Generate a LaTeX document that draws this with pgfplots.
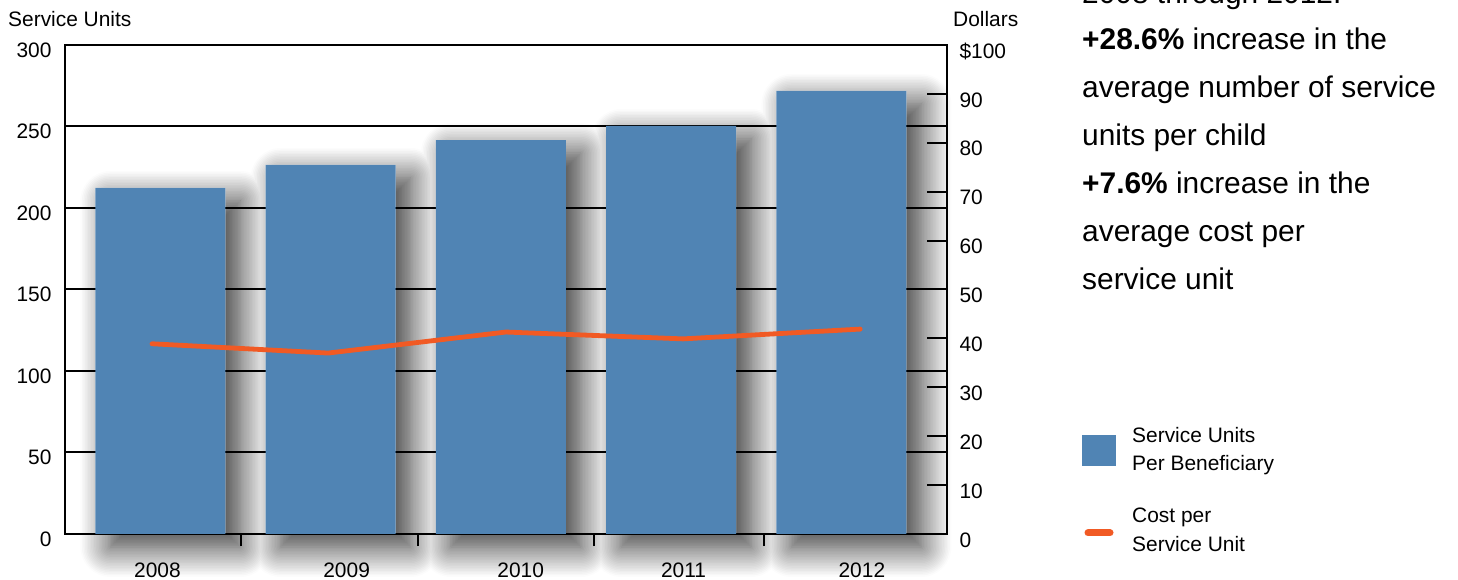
\documentclass[border=0pt]{standalone}
\usepackage{fontspec}
\setmainfont{Liberation Sans}
\usepackage{pgfplots}
\pgfplotsset{compat=1.18}
\usetikzlibrary{shadows.blur}
\definecolor{barblue}{RGB}{80,132,180}
\definecolor{lineorange}{RGB}{241,90,36}
\pgfplotsset{
  common/.style={
    at={(65bp,46bp)}, anchor=south west,
    scale only axis, width=882bp, height=489bp,
    xmin=2007.44, xmax=2012.62,
  }
}
\begin{document}
\begin{tikzpicture}[x=1bp,y=1bp]
% shadows only
\begin{axis}[common, ymin=0, ymax=300, hide axis, clip=false]
\addplot[ybar, bar width=130bp, bar shift=0pt, draw=none, fill=white,
  blur shadow={shadow xshift=15bp, shadow yshift=-13bp, shadow blur radius=30bp, shadow opacity=82, shadow blur steps=20}]
  coordinates {(2008,212.3) (2009,226.4) (2010,241.7) (2011,250.3) (2012,271.8)};
\end{axis}
% frame, grid and bars
\begin{axis}[common, ymin=0, ymax=300,
  clip=false,
  axis line style={line width=2bp},
  xtick={2008.474,2009.513,2010.547,2011.545},
  xticklabels={,,,},
  xtick pos=bottom, xtick align=outside,
  major tick length=12bp,
  x tick style={line width=2bp, black},
  extra x ticks={2007.983,2009.094,2010.116,2011.073,2012.12},
  extra x tick labels={2008,2009,2010,2011,2012},
  extra x tick style={major tick style={draw=none}, xticklabel style={yshift=-13bp}},
  ytick={0,50,100,150,200,250,300},
  yticklabels={0,50,100,150,200,250,300},
  ytick style={draw=none},
  ymajorgrids,
  major grid style={black, line width=2bp, opacity=1},
  ytick pos=left,
  tick label style={font=\fontsize{21}{25}\selectfont},
  yticklabel style={xshift=-10bp, yshift=-5bp},
]
\addplot[ybar, bar width=130bp, bar shift=0pt, draw=none, fill=barblue]
  coordinates {(2008,212.3) (2009,226.4) (2010,241.7) (2011,250.3) (2012,271.8)};
\end{axis}
% right axis and line
\begin{axis}[common, ymin=0, ymax=100,
  axis x line=none, axis y line*=right,
  axis line style={-, line width=2bp},
  ytick={0,10,20,30,40,50,60,70,80,90,100},
  yticklabels={0,10,20,30,40,50,60,70,80,90,\$100},
  ytick align=inside, major tick length=20bp,
  y tick style={line width=2bp, black},
  tick label style={font=\fontsize{21}{25}\selectfont},
  yticklabel style={xshift=9bp, yshift=-6bp},
]
\addplot[lineorange, line width=4.8bp, line cap=round, line join=round]
  coordinates {(2007.951,38.9) (2008.985,37.0) (2010.03,41.3) (2011.07,39.9) (2012.11,41.9)};
\end{axis}
\begin{scope}[every node/.style={anchor=base west, inner sep=0pt, font=\fontsize{21}{25}\selectfont}]
\node at (8,553) {Service Units};
\node at (953,553) {Dollars};
\node at (1132,137) {Service Units};
\node at (1132,109) {Per Beneficiary};
\node at (1132,57) {Cost per};
\node at (1132,28) {Service Unit};
\end{scope}
\fill[barblue] (1082,114) rectangle (1116,145);
\draw[lineorange, line width=7bp, line cap=round] (1088,47) -- (1110,47);
\begin{scope}[every node/.style={anchor=base west, inner sep=0pt, font=\fontsize{30}{36}\selectfont}]
\node at (1082,576) {2008 through 2012.};
\node at (1082,530) {\textbf{+28.6\%} increase in the};
\node at (1082,482) {average number of service};
\node at (1082,434) {units per child};
\node at (1082,386) {\textbf{+7.6\%} increase in the};
\node at (1082,338) {average cost per};
\node at (1082,290) {service unit};
\end{scope}
\pgfresetboundingbox
\useasboundingbox (0,0) rectangle (1458,580);
\end{tikzpicture}
\end{document}
